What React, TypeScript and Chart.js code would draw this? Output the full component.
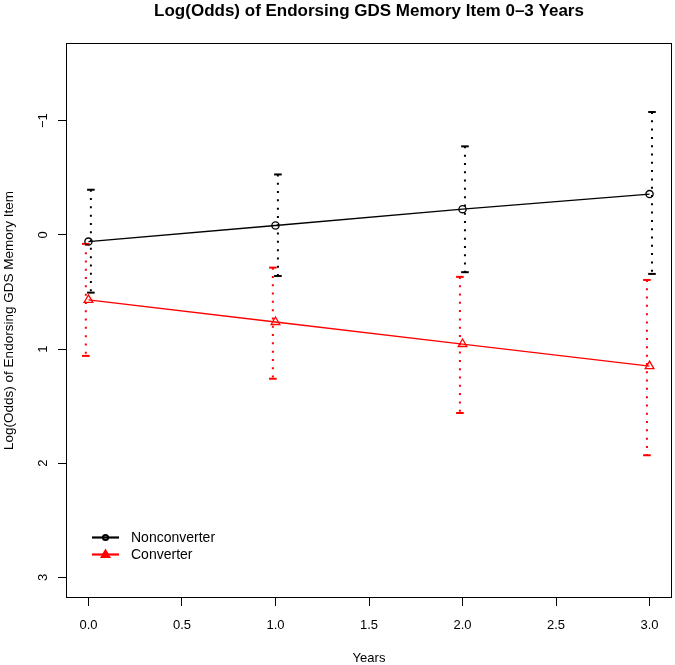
import React, { useEffect, useRef } from "react";
import { Chart, registerables } from "chart.js";

Chart.register(...registerables);

// ---- data ----
const years = [0, 1, 2, 3];
const nonMean = [0.059, -0.082, -0.225, -0.357];
const nonLow = [-0.395, -0.529, -0.775, -1.076];
const nonHigh = [0.506, 0.36, 0.327, 0.342];
const convMean = [0.57, 0.763, 0.956, 1.149];
const convLow = [0.079, 0.287, 0.368, 0.395];
const convHigh = [1.06, 1.26, 1.56, 1.93];
const xTicks = [0, 0.5, 1, 1.5, 2, 2.5, 3];
const yTicks = [-1, 0, 1, 2, 3];
const seriesNames = ["Nonconverter", "Converter"];
const titleText = "Log(Odds) of Endorsing GDS Memory Item 0\u20133 Years";
const xTitle = "Years";
const yTitle = "Log(Odds) of Endorsing GDS Memory Item";

const FONT = '"Liberation Sans", Arial, Helvetica, sans-serif';
const BLACK = "#000000";
const RED = "#ff0000";

function fmtY(v: number) {
  return v < 0 ? "\u2212" + Math.abs(v) : String(v);
}

function errorBarSets(low: number[], high: number[], color: string, off: number) {
  return years.map((yr, i) => ({
    label: "err",
    data: [
      { x: yr + off, y: low[i] },
      { x: yr + off, y: high[i] },
    ],
    showLine: true,
    borderColor: color,
    borderWidth: 2,
    borderDash: [2, 6.3],
    borderCapStyle: "butt",
    pointStyle: "line",
    pointRadius: 3.8,
    pointBorderWidth: 2,
    pointBorderColor: color,
    pointBackgroundColor: color,
    pointHoverRadius: 3.8,
  }));
}

const overlay = {
  id: "overlay",
  afterDraw(chart: any) {
    const ctx = chart.ctx;
    const ca = chart.chartArea;
    const xs = chart.scales.x;
    const ys = chart.scales.y;
    ctx.save();
    // frame
    ctx.strokeStyle = BLACK;
    ctx.lineWidth = 1;
    ctx.strokeRect(Math.round(ca.left) + 0.5, Math.round(ca.top) + 0.5, Math.round(ca.right - ca.left) - 1, Math.round(ca.bottom - ca.top) - 1);

    ctx.fillStyle = BLACK;
    // title
    ctx.font = "bold 17px " + FONT;
    ctx.textAlign = "center";
    ctx.textBaseline = "alphabetic";
    ctx.fillText(titleText, (ca.left + ca.right) / 2, 16);

    // x tick labels
    ctx.font = "13px " + FONT;
    xTicks.forEach((v) => {
      ctx.fillText(v.toFixed(1), xs.getPixelForValue(v), ca.bottom + 31);
    });
    // x title
    ctx.fillText(xTitle, (ca.left + ca.right) / 2, ca.bottom + 64);

    // y tick labels (rotated)
    yTicks.forEach((v) => {
      ctx.save();
      ctx.translate(ca.left - 19, ys.getPixelForValue(v));
      ctx.rotate(-Math.PI / 2);
      ctx.fillText(fmtY(v), 0, 0);
      ctx.restore();
    });
    // y title
    ctx.save();
    ctx.font = "13.5px " + FONT;
    ctx.translate(12.5, (ca.top + ca.bottom) / 2);
    ctx.rotate(-Math.PI / 2);
    ctx.fillText(yTitle, 0, 0);
    ctx.restore();

    // legend
    const lx0 = ca.left + 26;
    const lx1 = ca.left + 53;
    const tx = ca.left + 65;
    const rows = [
      { name: seriesNames[0], color: BLACK, y: ca.top + 494.5, marker: "circle" },
      { name: seriesNames[1], color: RED, y: ca.top + 511.5, marker: "triangle" },
    ];
    rows.forEach((r) => {
      ctx.strokeStyle = r.color;
      ctx.fillStyle = r.color;
      ctx.lineWidth = 2.2;
      ctx.beginPath();
      ctx.moveTo(lx0, r.y);
      ctx.lineTo(lx1, r.y);
      ctx.stroke();
      const cx = (lx0 + lx1) / 2;
      ctx.lineWidth = 2;
      ctx.beginPath();
      if (r.marker === "circle") {
        ctx.arc(cx, r.y, 2.6, 0, Math.PI * 2);
        ctx.stroke();
      } else {
        ctx.moveTo(cx, r.y - 4);
        ctx.lineTo(cx + 3.8, r.y + 2.5);
        ctx.lineTo(cx - 3.8, r.y + 2.5);
        ctx.closePath();
        ctx.fill();
        ctx.stroke();
      }
      ctx.fillStyle = BLACK;
      ctx.font = "14px " + FONT;
      ctx.textAlign = "left";
      ctx.textBaseline = "middle";
      ctx.fillText(r.name, tx, r.y + 0.5);
    });
    ctx.restore();
  },
};

export default function App() {
  const ref = useRef<HTMLCanvasElement | null>(null);
  useEffect(() => {
    if (!ref.current) return;
    const chart = new Chart(ref.current, {
      type: "scatter",
      data: {
        datasets: [
          {
            label: seriesNames[0],
            data: years.map((x, i) => ({ x, y: nonMean[i] })),
            showLine: true,
            borderColor: BLACK,
            borderWidth: 1.3,
            pointStyle: "circle",
            pointRadius: 3.6,
            pointBorderWidth: 1.3,
            pointBorderColor: BLACK,
            pointBackgroundColor: "rgba(0,0,0,0)",
          },
          {
            label: seriesNames[1],
            data: years.map((x, i) => ({ x, y: convMean[i] })),
            showLine: true,
            borderColor: RED,
            borderWidth: 1.3,
            pointStyle: "triangle",
            pointRadius: 5,
            pointBorderWidth: 1.3,
            pointBorderColor: RED,
            pointBackgroundColor: "rgba(0,0,0,0)",
          },
          ...errorBarSets(nonLow, nonHigh, BLACK, 0.013),
          ...errorBarSets(convLow, convHigh, RED, -0.014),
        ] as any,
      },
      options: {
        responsive: false,
        animation: false,
        devicePixelRatio: 1,
        events: [],
        layout: { autoPadding: false, padding: { top: 43, right: 3, left: 0, bottom: 0 } },
        plugins: {
          legend: { display: false },
          title: { display: false },
          tooltip: { enabled: false },
        },
        scales: {
          x: {
            type: "linear",
            min: -0.12,
            max: 3.12,
            afterBuildTicks: (s: any) => {
              s.ticks = xTicks.map((value) => ({ value }));
            },
            afterFit: (s: any) => {
              s.height = 67;
            },
            ticks: { display: false },
            border: { display: false },
            grid: {
              drawOnChartArea: false,
              drawTicks: true,
              tickLength: 8,
              color: BLACK,
              lineWidth: 1,
            },
          },
          y: {
            type: "linear",
            reverse: true,
            min: -1.68,
            max: 3.18,
            afterBuildTicks: (s: any) => {
              s.ticks = yTicks.map((value) => ({ value }));
            },
            afterFit: (s: any) => {
              s.width = 66;
            },
            ticks: { display: false },
            border: { display: false },
            grid: {
              drawOnChartArea: false,
              drawTicks: true,
              tickLength: 8,
              color: BLACK,
              lineWidth: 1,
            },
          },
        },
      } as any,
      plugins: [overlay],
    });
    return () => chart.destroy();
  }, []);
  return (
    <div style={{ position: "absolute", left: 0, top: 0, width: 675, height: 665, background: "#fff" }}>
      <canvas ref={ref} width={675} height={665} style={{ display: "block" }} />
    </div>
  );
}
